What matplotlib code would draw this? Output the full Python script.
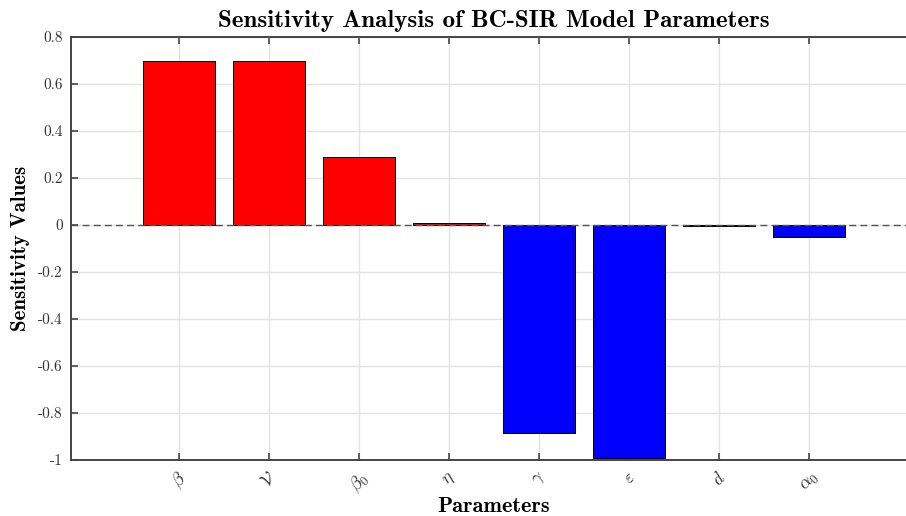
import numpy as np
import matplotlib.pyplot as plt

plt.rcParams['mathtext.fontset'] = 'cm'
plt.rcParams['axes.unicode_minus'] = False

# Sensitivity indices
params = [r'$\beta$', r'$\mathcal{V}$', r'$\beta_0$', r'$\eta$',
          r'$\gamma$', r'$\varepsilon$', r'$d$', r'$\alpha_0$']
sens = [0.70, 0.70, 0.29, 0.01, -0.885, -0.99, -0.006, -0.05]
yticks = [-1, -0.8, -0.6, -0.4, -0.2, 0, 0.2, 0.4, 0.6, 0.8]
ytick_labels = ['-1', '-0.8', '-0.6', '-0.4', '-0.2', '0', '0.2', '0.4', '0.6', '0.8']

fig = plt.figure(figsize=(9.06, 5.16), dpi=100)
ax = fig.add_axes([71 / 906, 1 - 460 / 516, 846 / 906, 423 / 516])

x = np.arange(1, len(sens) + 1)
colors = ['#ff0000' if v > 0 else '#0000ff' for v in sens]
ax.bar(x, sens, width=0.8, color=colors, edgecolor='black', linewidth=0.7, zorder=2)

# dashed zero line
ax.axhline(0, color='#555555', linestyle=(0, (5, 3)), linewidth=1.0, zorder=3)

ax.set_xlim(-0.2, 9.2)
ax.set_ylim(-1, 0.8)
ax.set_xticks(x)
ax.set_xticklabels(params, rotation=45, ha='center', va='top', fontsize=13)
ax.set_yticks(yticks)
ax.set_yticklabels(ytick_labels, fontsize=11, fontfamily='cmr10')

ax.grid(True, color='#e3e3e3', linewidth=1.0, zorder=0)
ax.set_axisbelow(True)
ax.tick_params(direction='in', length=5, width=1.2, color='#444444',
               top=True, right=True, labelcolor='#333333', pad=6)
for s in ax.spines.values():
    s.set_color('#444444')
    s.set_linewidth(1.4)

ax.set_title('Sensitivity Analysis of BC-SIR Model Parameters',
             fontfamily='cmb10', fontsize=18, pad=7)
ax.set_xlabel('Parameters', fontfamily='cmb10', fontsize=16, labelpad=1)
ax.set_ylabel('Sensitivity Values', fontfamily='cmb10', fontsize=15, labelpad=6)

fig.savefig('out.png', dpi=100)
